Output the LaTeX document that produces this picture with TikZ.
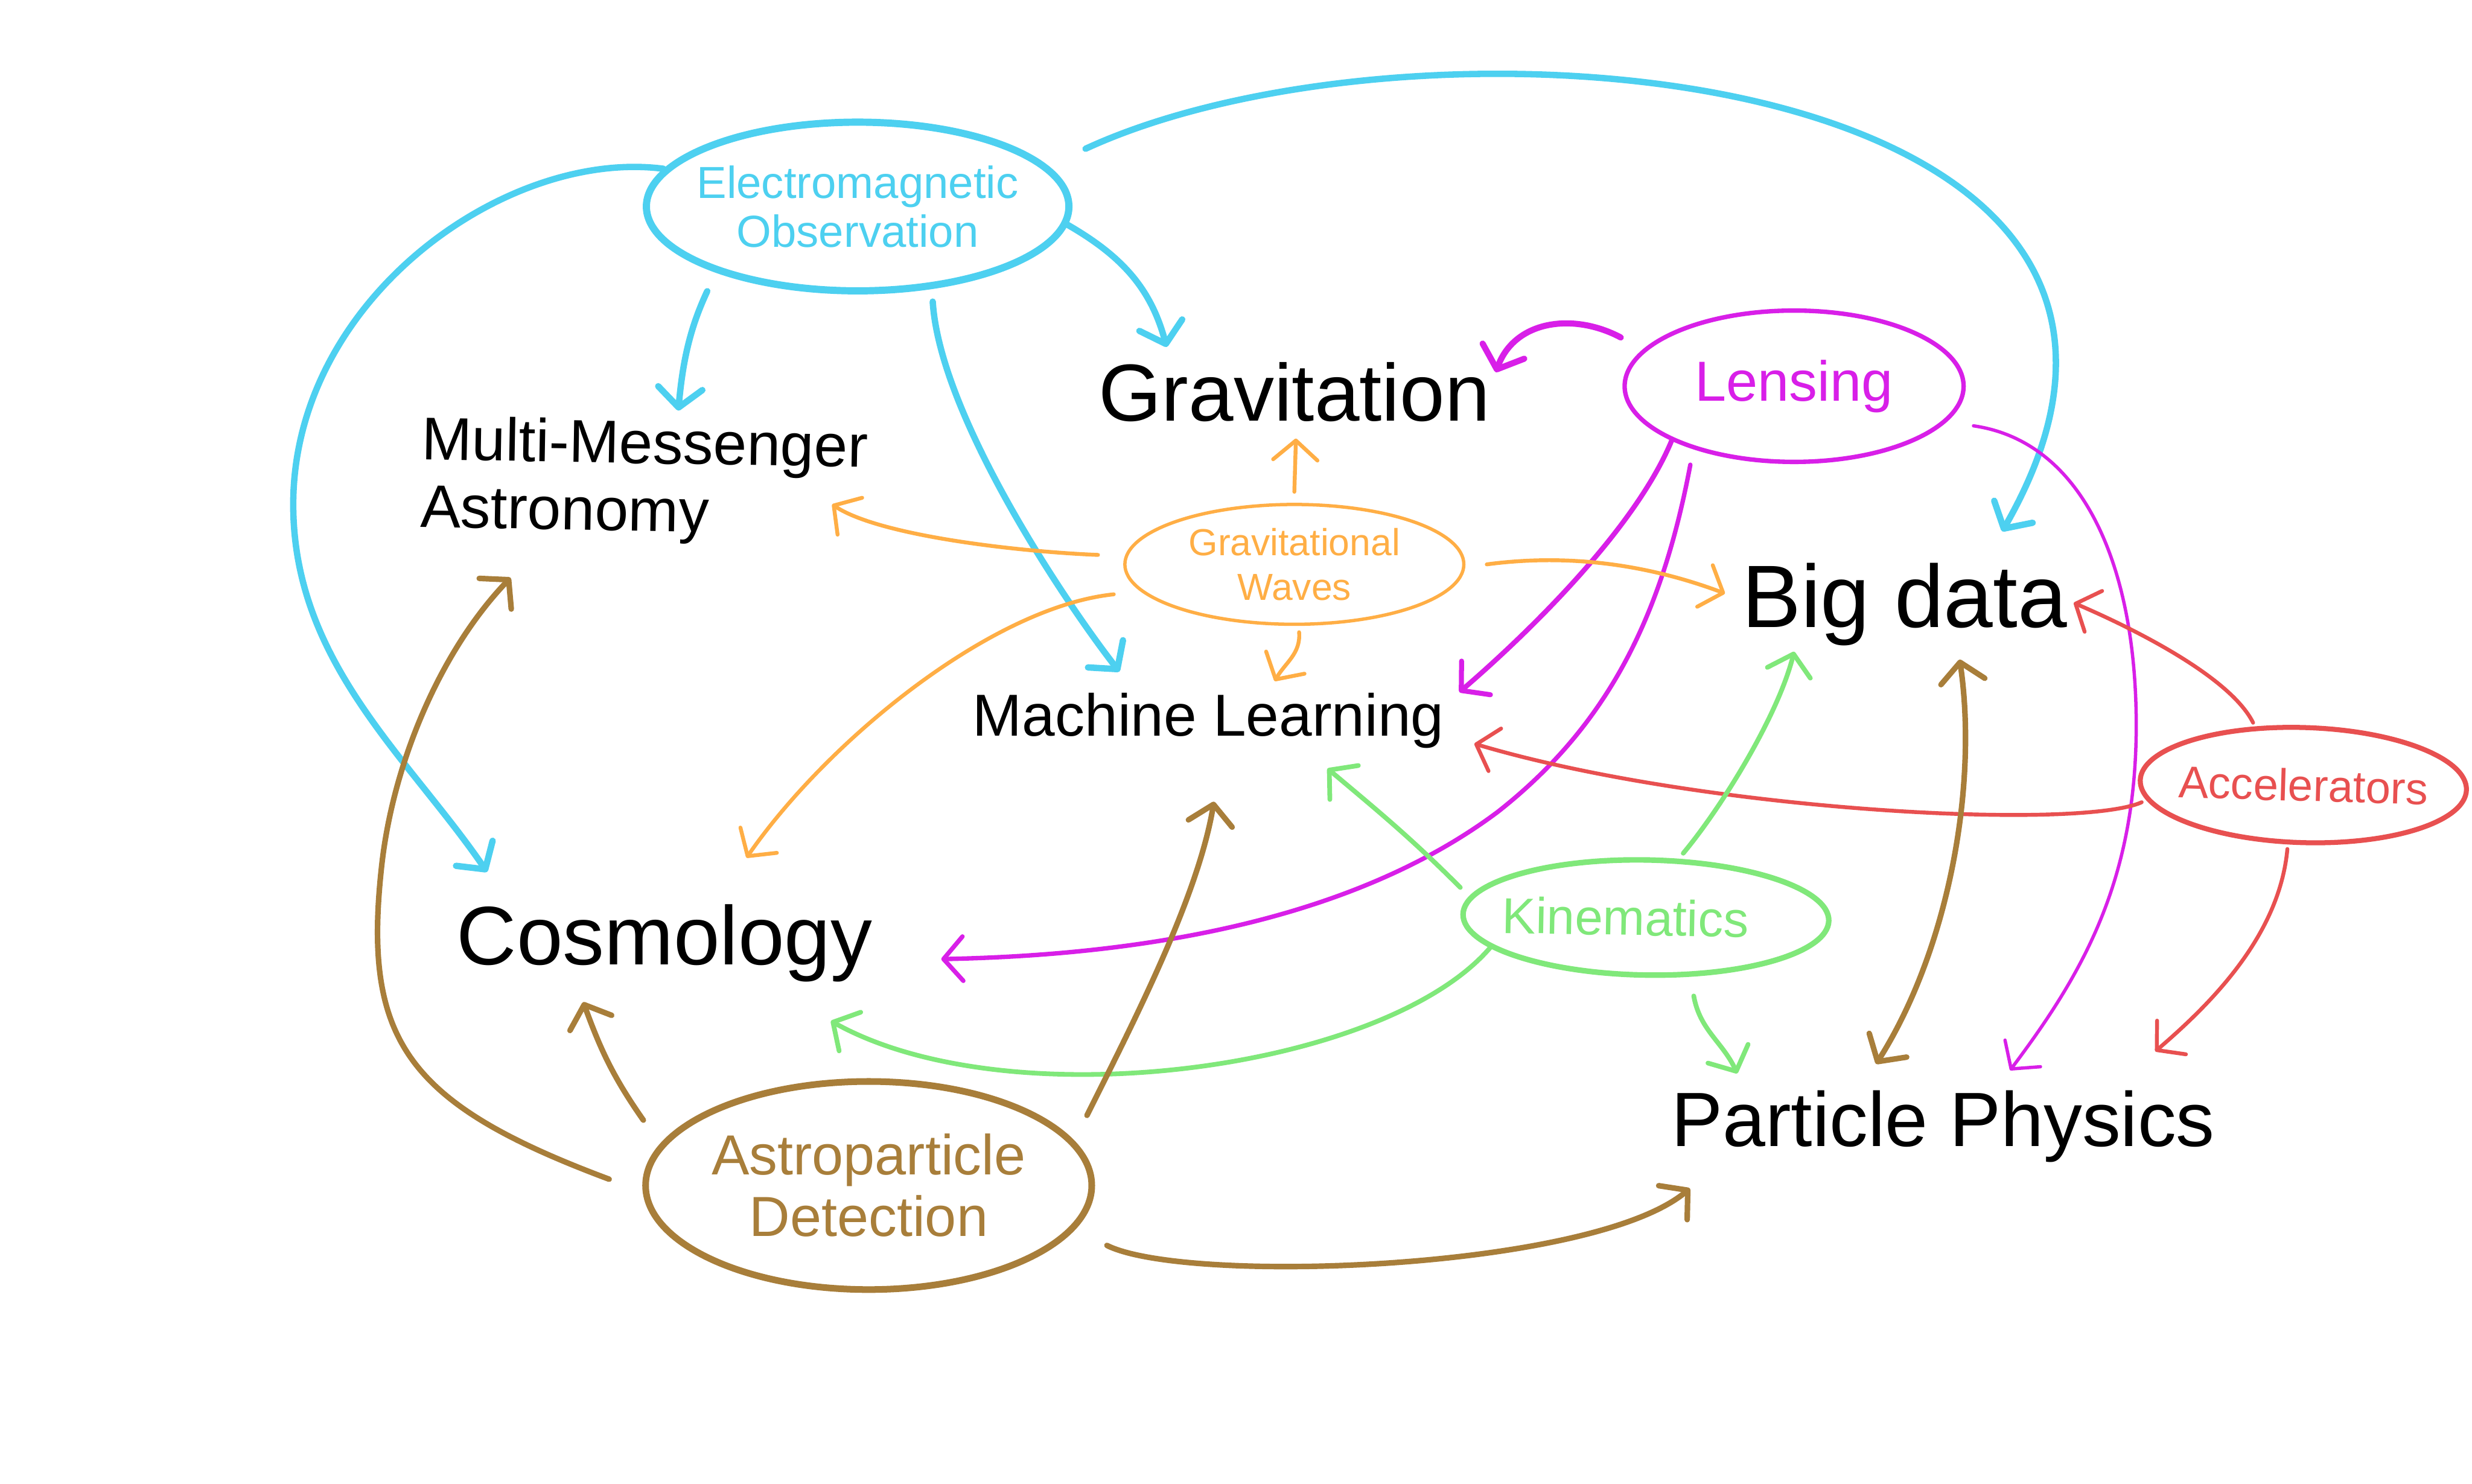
\documentclass[tikz,border=0pt]{standalone}
\usepackage{fontspec}
\setmainfont{Liberation Sans}
\usetikzlibrary{arrows.meta, shapes.geometric}
\definecolor{emblue}{RGB}{77, 208, 240}
\definecolor{lensmag}{RGB}{216, 31, 232}
\definecolor{gworange}{RGB}{255, 174, 69}
\definecolor{accred}{RGB}{232, 80, 80}
\definecolor{kingreen}{RGB}{128, 232, 122}
\definecolor{astrobrown}{RGB}{168, 126, 58}
\tikzset{
  topic/.style={
    ellipse, draw, inner sep=-3pt, align=center
  },
  field/.style={
    anchor=base, inner sep=0pt, text=black
  },
  link/.style={->, line cap=round},
  emlink/.style={link, emblue, line width=1.15pt},
  lenslink/.style={link, lensmag},
  gwlink/.style={link, gworange, line width=0.7pt},
  acclink/.style={link, accred, line width=0.7pt},
  kinlink/.style={link, kingreen, line width=0.85pt},
  astrolink/.style={link, astrobrown, line width=1pt},
}

\begin{document}
\begin{tikzpicture}[>={Straight Barb[length=3.5pt, width=8pt, round]}]

  \useasboundingbox (0,0) rectangle (15.68,9.41);

  % ============ FIELDS (plain text) ============
  \node[field, font=\fontsize{14.6}{16}\selectfont] (grav) at (8.21,6.74) {Gravitation};
  \node[field, font=\fontsize{16}{18}\selectfont]   (bd)   at (12.08,5.43) {Big data};
  \node[field, font=\fontsize{10.7}{12}\selectfont] (ml)   at (7.665,4.74) {Machine Learning};
  \node[field, font=\fontsize{15}{17}\selectfont]   (cos)  at (4.215,3.29) {Cosmology};
  \node[field, font=\fontsize{13.9}{15}\selectfont] (pp)   at (12.325,2.14) {Particle Physics};
  \node[field, anchor=north west, align=left, rotate=-1,
        font=\fontsize{10.9}{12.2}\selectfont]
    (mma) at (2.67,6.78) {Multi-Messenger\\Astronomy};

  % ============ TOPICS (ellipses) ============
  \node[topic, emblue, line width=1.3pt, minimum width=2.68cm, minimum height=1.07cm,
        font=\fontsize{8.1}{8.8}\selectfont]
    (em) at (5.44,8.10) {Electromagnetic\\Observation};
  \node[topic, lensmag, line width=0.8pt, minimum width=2.15cm, minimum height=0.96cm,
        font=\fontsize{10.2}{11}\selectfont]
    (lens) at (11.38,6.96) {Lensing};
  \node[topic, gworange, line width=0.6pt, minimum width=2.15cm, minimum height=0.76cm,
        font=\fontsize{6.8}{8}\selectfont]
    (gw) at (8.21,5.83) {Gravitational\\Waves};
  \node[topic, accred, line width=0.9pt, minimum width=2.07cm, minimum height=0.73cm,
        rotate=-1.7, font=\fontsize{8.1}{9}\selectfont]
    (acc) at (14.61,4.43) {Accelerators};
  \node[topic, kingreen, line width=1pt, minimum width=2.32cm, minimum height=0.73cm,
        rotate=-1, font=\fontsize{9.1}{10}\selectfont]
    (kin) at (10.44,3.59) {Kinematics\kern0.26cm};
  \node[topic, astrobrown, line width=1.2pt, minimum width=2.83cm, minimum height=1.32cm,
        font=\fontsize{10.2}{11.1}\selectfont]
    (astro) at (5.51,1.89) {Astroparticle\\Detection};

  % bends of the long loops
  \coordinate (emloop)    at (1.86,6.21);
  \coordinate (lensbend)  at (9.5,4.26);
  \coordinate (lensfar)   at (13.55,4.81);
  \coordinate (astroloop) at (2.42,3.91);

  % ============ ELECTROMAGNETIC OBSERVATION ============
  \draw[emlink] (em.169) .. controls +(-1.0,0.13) and +(0,1.3) .. (emloop)
    .. controls +(0,-1.0) and +(-0.5,0.73) .. ([xshift=2mm,yshift=2mm]cos.north west);
  \draw[emlink, shorten <=1.3mm] (em.205) to[out=-115,in=85] ([xshift=2.1mm,yshift=0.5mm]mma.north);
  \draw[emlink, shorten <=0.8mm] (em.-48) .. controls +(0.05,-0.8) and +(-0.35,0.45)
    .. ([xshift=-5.65mm,yshift=1.3mm]ml.north);
  \draw[emlink] (em.-5) to[out=-30,in=105] ([xshift=-8.1mm,yshift=0.9mm]grav.north);
  \draw[emlink, shorten <=2.6mm] (em.12) .. controls +(2.38,1.1) and +(1.7,2.97)
    .. ([xshift=6.2mm,yshift=1.95mm]bd.north);

  % ============ LENSING ============
  \draw[lenslink, line width=1.1pt] ([xshift=-2.5mm]lens.160)
    .. controls +(-0.3,0.16) and +(0.12,0.33) .. ([xshift=0.3mm,yshift=-0.7mm]grav.north east);
  \draw[lenslink, line width=0.9pt] (lens.204)
    .. controls +(-0.25,-0.6) and +(0.35,0.3) .. ([xshift=0.9mm]ml.north east);
  \draw[lenslink, line width=0.8pt, shorten <=1mm] (lens.212)
    .. controls +(-0.2,-1.06) and +(0.7,0.55) .. (lensbend)
    .. controls +(-0.8,-0.6) and +(1.53,0.03) .. ([xshift=4.3mm,yshift=-1mm]cos.east);
  \draw[lenslink, line width=0.6pt] ([xshift=2mm]lens.-15)
    .. controls +(0.7,-0.1) and +(0,1.0) .. (lensfar)
    .. controls +(0,-1.0) and +(0.45,0.6) .. ([xshift=4.25mm,yshift=1.2mm]pp.north);

  % ============ GRAVITATIONAL WAVES ============
  \draw[gwlink] ([yshift=0.7mm]gw.north) -- ([xshift=0.1mm,yshift=-1mm]grav.south);
  \draw[gwlink] ([xshift=-1.6mm,yshift=0.6mm]gw.west)
    .. controls +(-0.5,0.02) and +(0.3,-0.2) .. ([xshift=-2.3mm,yshift=-1.2mm]mma.east);
  \draw[gwlink] ([xshift=1.35mm]gw.east)
    .. controls +(0.6,0.08) and +(-0.4,0.15) .. ([xshift=-1mm,yshift=0.7mm]bd.west);
  \draw[gwlink] ([xshift=0.3mm,yshift=-0.4mm]gw.south) to[out=-85,in=60] ([xshift=4.2mm,yshift=0.7mm]ml.north);
  \draw[gwlink] ([xshift=-0.6mm,yshift=-1.9mm]gw.west)
    .. controls +(-0.775,-0.08) and +(0.515,0.743) .. ([xshift=5.2mm,yshift=2.9mm]cos.north);

  % ============ ACCELERATORS ============
  \draw[acclink] ([xshift=-3.3mm,yshift=0.15mm]acc.north)
    .. controls +(-0.15,0.3) and +(0.35,-0.15) .. ([xshift=0.35mm,yshift=0.1mm]bd.east);
  \draw[acclink] ([xshift=0.25mm,yshift=-1.4mm]acc.west)
    .. controls +(-0.4,-0.18) and +(1.45,-0.43) .. ([xshift=1.85mm,yshift=-1.45mm]ml.east);
  \draw[acclink] ([xshift=-0.9mm,yshift=-0.25mm]acc.south)
    .. controls +(-0.05,-0.55) and +(0.35,0.3) .. ([xshift=-3.85mm,yshift=2.4mm]pp.north east);

  % ============ KINEMATICS ============
  \draw[kinlink] ([yshift=1.7mm]kin.west) to[out=135,in=-40] ([xshift=7.55mm,yshift=-1.2mm]ml.south);
  \draw[kinlink] ([xshift=2.3mm,yshift=0.25mm]kin.north)
    .. controls +(0.25,0.3) and +(-0.1,-0.4) .. ([xshift=-7mm,yshift=-0.3mm]bd.south);
  \draw[kinlink] (kin.192)
    .. controls +(-0.67,-0.78) and +(1.13,-0.63) .. ([xshift=-2.7mm,yshift=-2.4mm]cos.south east);
  \draw[kinlink] ([xshift=3.1mm,yshift=-1.15mm]kin.south) to[out=-80,in=115] ([xshift=4.25mm,yshift=1mm]pp.north west);

  % ============ ASTROPARTICLE DETECTION ============
  \draw[astrolink] ([xshift=-2.1mm,yshift=0.4mm]astro.west)
    .. controls +(-1.285,0.48) and +(-0.12,-1.1) .. (astroloop)
    .. controls +(0.07,0.65) and +(-0.45,-0.47) .. ([xshift=-8.4mm,yshift=-2.1mm]mma.south);
  \draw[astrolink] ([xshift=-2.9mm]astro.160) to[out=125,in=-70] ([xshift=8.1mm,yshift=-1.2mm]cos.south west);
  \draw[astrolink] ([xshift=2mm,yshift=0.6mm]astro.18)
    .. controls +(0.3,0.6) and +(-0.1,-0.6) .. ([xshift=0.35mm,yshift=-3.3mm]ml.south);
  \draw[astrolink] ([xshift=0.75mm,yshift=-3.8mm]astro.east)
    .. controls +(0.5,-0.25) and +(-0.62,-0.52) .. ([xshift=1.25mm,yshift=-1.6mm]pp.south west);

  % particle physics <-> big data
  \draw[astrolink, <->] ([xshift=-4.25mm,yshift=1.6mm]pp.north)
    .. controls +(0.45,0.71) and +(0.12,-0.82) .. ([xshift=3.5mm,yshift=-0.8mm]bd.south);

\end{tikzpicture}
\end{document}
